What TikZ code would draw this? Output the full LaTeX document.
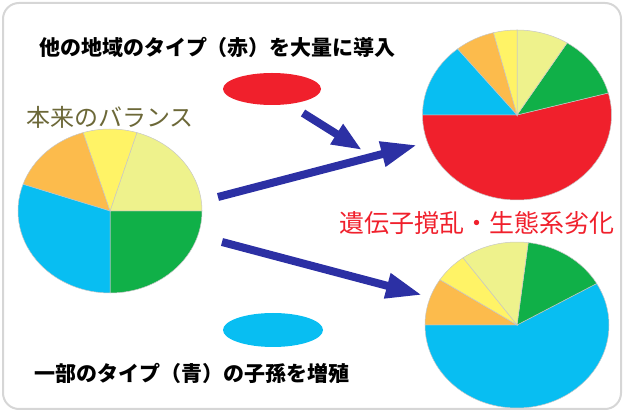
\documentclass[tikz,border=0pt]{standalone}
\usepackage{fontspec}
\newfontfamily\jp{Noto Sans CJK JP}
\usetikzlibrary{arrows.meta}
\definecolor{cgreen}{RGB}{16,176,72}
\definecolor{cpale}{RGB}{238,242,140}
\definecolor{cyel}{RGB}{255,243,102}
\definecolor{corange}{RGB}{252,187,76}
\definecolor{cblue}{RGB}{8,190,242}
\definecolor{cred}{RGB}{240,32,44}
\definecolor{carrow}{RGB}{44,48,164}
\definecolor{colive}{RGB}{108,104,56}
\definecolor{cborder}{RGB}{214,214,214}
\newcommand\myslice[7]{\filldraw[fill=#7,draw=black!22,line width=0.5pt] (#1,#2) -- ++(#5:#3 and #4) arc[start angle=#5,end angle=#6,x radius=#3,y radius=#4] -- cycle;}
\begin{document}
\begin{tikzpicture}[x=1pt,y=1pt,
  bigarrow/.style={carrow,line width=8pt,-{Triangle[length=36pt,width=24pt]}},
  smallarrow/.style={carrow,line width=8pt,-{Triangle[length=30pt,width=22pt]}},
  blacklabel/.style={font=\jp\bfseries\fontsize{21}{24}\selectfont,text=black,inner sep=0pt},
  blob/.style={ellipse,inner sep=0pt}]
\useasboundingbox (0,0) rectangle (624,412);
\draw[cborder,line width=2pt,rounded corners=16pt] (3,3) rectangle (621,409);
% left pie
\myslice{110}{201}{92}{82}{-90}{0}{cgreen}
\myslice{110}{201}{92}{82}{0}{73}{cpale}
\myslice{110}{201}{92}{82}{73}{107}{cyel}
\myslice{110}{201}{92}{82}{107}{161}{corange}
\myslice{110}{201}{92}{82}{161}{270}{cblue}
% top right pie
\myslice{517}{297}{94.5}{85}{180}{375}{cred}
\myslice{517}{297}{94.5}{85}{15}{58}{cgreen}
\myslice{517}{297}{94.5}{85}{58}{90}{cpale}
\myslice{517}{297}{94.5}{85}{90}{104.5}{cyel}
\myslice{517}{297}{94.5}{85}{104.5}{129}{corange}
\myslice{517}{297}{94.5}{85}{129}{180}{cblue}
% bottom right pie
\myslice{517}{87}{92}{83}{-180}{30}{cblue}
\myslice{517}{87}{92}{83}{30}{83}{cgreen}
\myslice{517}{87}{92}{83}{83}{126}{cpale}
\myslice{517}{87}{92}{83}{126}{147}{cyel}
\myslice{517}{87}{92}{83}{147}{180}{corange}
% ellipses
\fill[cred] (272,323) ellipse[x radius=49,y radius=16];
\fill[cblue] (273,82) ellipse[x radius=50,y radius=17];
% texts
\node[blacklabel] (toptext) at (217.5,365) {他の地域のタイプ（赤）を大量に導入};
\node[blacklabel] (bottext) at (192,38.5) {一部のタイプ（青）の子孫を増殖};
\node[inner sep=0pt,text=colive,font=\jp\fontsize{24}{28}\selectfont] (balance) at (110,295) {本来のバランス};
\node[inner sep=0pt,text=cred,font=\jp\fontsize{25}{29}\selectfont] (result) at (477,189) {遺伝子撹乱・生態系劣化};
% arrows
\coordinate (a1s) at (303,299);
\coordinate (a1e) at (362,262);
\coordinate (a2s) at (218,215);
\coordinate (a2e) at (417,267);
\coordinate (a3s) at (222,170);
\coordinate (a3e) at (422,117);
\draw[smallarrow] (a1s) -- (a1e);
\draw[bigarrow] (a2s) -- (a2e);
\draw[bigarrow] (a3s) -- (a3e);
\end{tikzpicture}
\end{document}
